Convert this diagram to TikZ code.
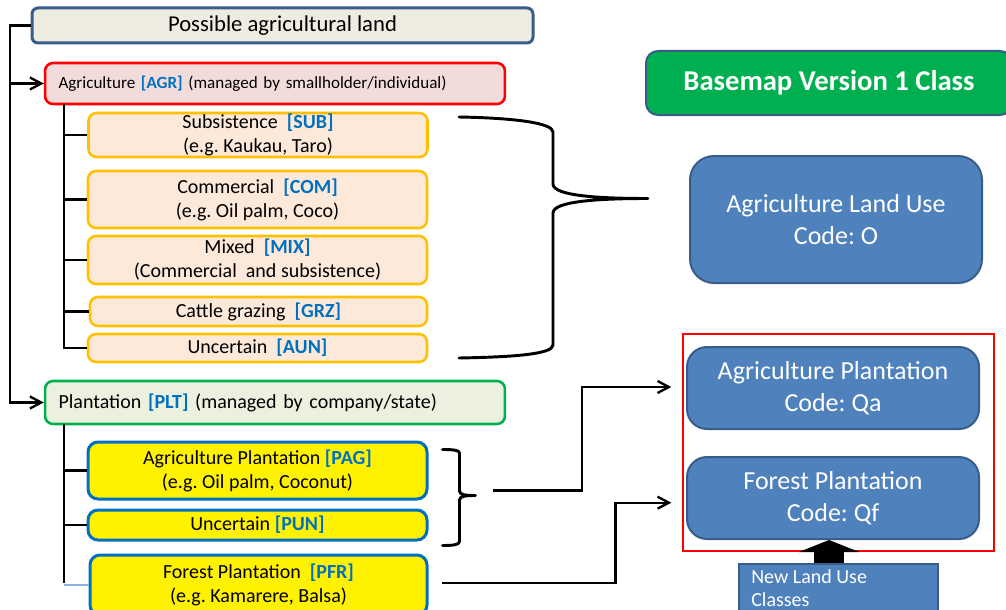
\documentclass[tikz,border=0pt]{standalone}
\usepackage{fontspec}
\setmainfont{Carlito}
\usetikzlibrary{arrows.meta}
\frenchspacing

\definecolor{slateblue}{HTML}{385D8A}
\definecolor{beige}{HTML}{EEECE1}
\definecolor{agrfill}{HTML}{F2DCDB}
\definecolor{subfill}{HTML}{FDE9D9}
\definecolor{subline}{HTML}{FFC000}
\definecolor{pltfill}{HTML}{EBF1DE}
\definecolor{pltline}{HTML}{00B050}
\definecolor{codeblue}{HTML}{0070C0}
\definecolor{classfill}{HTML}{4F81BD}
\definecolor{faintblue}{HTML}{8DB3E2}

\newcommand\lucode[1]{\textcolor{codeblue}{\bfseries #1}}

\begin{document}
\begin{tikzpicture}[x=0.75pt,y=-0.75pt,
  box/.style={draw, rounded corners=6pt, inner sep=0pt, align=center,
    font=\fontsize{15}{18}\selectfont},
  topbox/.style={box, draw=slateblue, fill=beige, line width=2.25pt,
    rounded corners=4.5pt, font=\fontsize{17}{20}\selectfont},
  headbox/.style={box, line width=1.9pt, align=left, inner xsep=10.1pt,
    text width=324.75pt, minimum height=#1},
  subbox/.style={box, draw=subline, fill=subfill, line width=1.9pt,
    minimum width=254.25pt},
  plbox/.style={box, draw=codeblue, fill=yellow, line width=2.25pt,
    rounded corners=7.5pt, minimum width=254.25pt},
  classbox/.style={box, draw=slateblue, fill=classfill, line width=1.5pt,
    text=white, font=\fontsize{19.5}{24}\selectfont, rounded corners=15pt,
    minimum width=219pt},
  conn/.style={line width=1.75pt, draw=black},
  arr/.style={conn, -{Straight Barb[length=8.5pt,width=9pt]}},
  brace/.style={line width=2.2pt, line join=round, line cap=round},
]
\clip (0,0) rectangle (1006,610);

% ---- left hierarchy ----
\node[topbox, minimum width=375.75pt, minimum height=26.25pt] (top)
  at (282.5,25.5) {Possible agricultural land};

\node[headbox=30.75pt, draw=red, fill=agrfill,
  font=\fontsize{12.8}{16}\selectfont] (agr) at (275,83.5)
  {Agriculture \lucode{[AGR]} (managed by smallholder/individual)};

\node[subbox, minimum height=33pt] (sub) at (258,135)
  {Subsistence~ \lucode{[SUB]}\\(e.g. Kaukau, Taro)};
\node[subbox, minimum height=42.75pt] (com) at (257.5,199.5)
  {Commercial~ \lucode{[COM]}\\(e.g. Oil palm, Coco)};
\node[subbox, minimum height=36pt] (mix) at (257.5,260)
  {Mixed~ \lucode{[MIX]}\\(Commercial~ and subsistence)};
\node[subbox, minimum width=252.75pt, minimum height=21.75pt] (grz)
  at (258.5,311.5) {Cattle grazing~ \lucode{[GRZ]}};
\node[subbox, minimum height=21pt] (aun) at (257.5,348)
  {Uncertain~ \lucode{[AUN]}};

\node[headbox=32.25pt, draw=pltline, fill=pltfill] (plt) at (275,402.5)
  {Plantation \lucode{[PLT]} (managed by company/state)};

\node[plbox, minimum height=42.75pt] (pag) at (257.5,470.5)
  {Agriculture Plantation \lucode{[PAG]}\\(e.g. Oil palm, Coconut)};
\node[plbox, minimum height=22.5pt] (pun) at (257.5,525)
  {Uncertain \lucode{[PUN]}};
\node[plbox, minimum width=252.75pt, minimum height=45pt] (pfr)
  at (258.5,585) {Forest Plantation~ \lucode{[PFR]}\\(e.g. Kamarere, Balsa)};

% ---- right column ----
\node[box, draw=slateblue, fill=pltline, line width=1.5pt, text=white,
  rounded corners=9pt, minimum width=274.5pt, minimum height=48pt,
  font=\bfseries\fontsize{21.5}{26}\selectfont] (basemap) at (829,83)
  {Basemap Version 1 Class};

\node[classbox, minimum height=95.25pt, rounded corners=18pt] (alu)
  at (836,219.5) {Agriculture Land Use\\Code: O};

\node[draw=red, line width=2.1pt, inner sep=0pt, minimum width=233.25pt,
  minimum height=162.75pt] (sel) at (838.5,442.5) {};

\node[classbox, minimum height=61.5pt] (apl) at (833,388)
  {Agriculture Plantation\\Code: Qa};
\node[classbox, minimum height=61.5pt] (fpl) at (833,498)
  {Forest Plantation\\Code: Qf};

\node[draw=slateblue, fill=classfill, line width=1.5pt, inner sep=0pt,
  minimum width=149.25pt, minimum height=45pt] (new) at (838,594) {};
\node[anchor=base west, inner sep=0pt, text=white,
  font=\fontsize{15}{18}\selectfont] (newa) at (751,583) {New Land Use};
\node[anchor=base west, inner sep=0pt, text=white,
  font=\fontsize{15}{18}\selectfont] (newb) at (751,606.5) {Classes};

% ---- connectors on the left ----
\coordinate (trunk) at (10,25.5);
\draw[arr] (top.west) -- (trunk) |- (plt.west);
\draw[arr] (trunk |- agr.west) -- (agr.west);

\coordinate (agrtrunk) at (64,104);
\draw[conn] (agrtrunk) |- (aun.west);
\foreach \n in {sub,com,mix,grz}
  \draw[conn] (agrtrunk |- \n.west) -- (\n.west);

\coordinate (plttrunk) at (64,424);
\coordinate (pltend) at (64,583);
\draw[conn] (plttrunk) -- (pltend);
\foreach \n in {pag,pun}
  \draw[conn] (plttrunk |- \n.west) -- (\n.west);
\draw[faintblue, line width=1.5pt] (pltend |- pfr.west) -- (pfr.west);

% ---- braces ----
\draw[brace] (459,117) .. controls (515,118) and (553,123) .. (553,132)
  -- (553,184) .. controls (553,196) and (600,198.5) .. (648,198.5)
  .. controls (600,198.5) and (553,201) .. (553,213)
  -- (553,345) .. controls (553,354) and (515,357) .. (459,358);

\draw[brace] (442.5,449.5) .. controls (452,449.5) and (459.5,450) .. (459.5,453)
  -- (459.5,491) .. controls (459.5,495) and (466,495.5) .. (475.5,495.5)
  .. controls (466,495.5) and (459.5,496) .. (459.5,500)
  -- (459.5,541.5) .. controls (459.5,545) and (452,545.5) .. (442.5,545.5);

% ---- connectors on the right ----
\coordinate (pagout) at (492.5,490.5);
\coordinate (bend1) at (582,490.5);
\draw[arr, shorten >=11pt] (pagout) -- (bend1) |- ([yshift=0.75pt]apl.west);

\coordinate (pfrout) at (442,583);
\coordinate (bend2) at (615.5,583);
\draw[arr, shorten >=11pt] (pfrout) -- (bend2) |- ([yshift=-3.5pt]fpl.west);

\coordinate (upx) at (829,0);
\draw[line width=22pt, -{Triangle[width=45pt,length=9pt]}]
  (new.north -| upx) -- (fpl.south -| upx);
\end{tikzpicture}
\end{document}
